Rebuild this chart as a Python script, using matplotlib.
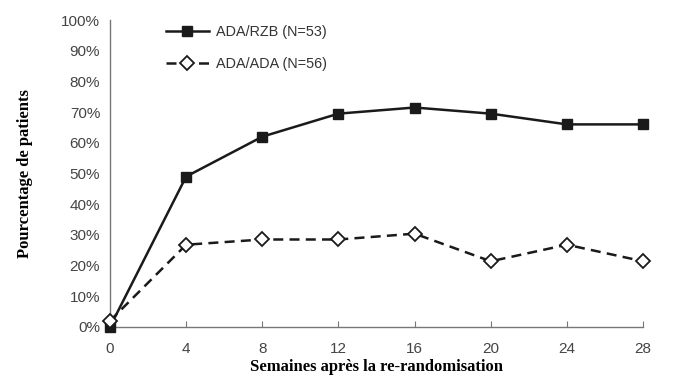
import matplotlib
matplotlib.use("Agg")
import matplotlib.pyplot as plt
from matplotlib.ticker import FuncFormatter

weeks = [0, 4, 8, 12, 16, 20, 24, 28]
ada_rzb = [0, 49, 62, 69.5, 71.5, 69.5, 66, 66]
ada_ada = [2, 26.8, 28.5, 28.5, 30.4, 21.4, 26.8, 21.4]
yticks = list(range(0, 101, 10))

fig = plt.figure(figsize=(6.96, 3.78), dpi=100)
ax = fig.add_axes([0.158, 0.135, 0.766, 0.812])

ax.plot(weeks, ada_rzb, color="#1a1a1a", lw=1.8, marker="s", ms=7.5,
        mfc="#1a1a1a", mec="#1a1a1a", clip_on=False, zorder=3,
        label="ADA/RZB (N=53)")
ax.plot(weeks, ada_ada, color="#1a1a1a", lw=1.8, ls=(0, (4, 2.5)), marker="D", ms=7,
        mfc="white", mec="#1a1a1a", mew=1.3, clip_on=False, zorder=4,
        label="ADA/ADA (N=56)")

ax.set_xlim(0, 28)
ax.set_ylim(0, 100)
ax.set_xticks(weeks)
ax.set_yticks(yticks)
ax.yaxis.set_major_formatter(FuncFormatter(lambda v, p: f"{int(v)}%"))

for s in ["top", "right"]:
    ax.spines[s].set_visible(False)
for s in ["left", "bottom"]:
    ax.spines[s].set_color("#777777")
    ax.spines[s].set_linewidth(1.0)

ax.tick_params(axis="x", direction="in", length=4, color="#777777",
               labelsize=11, labelcolor="#444444", pad=11)
ax.tick_params(axis="y", length=0, labelsize=11, labelcolor="#444444", pad=7)
for lab in ax.get_xticklabels() + ax.get_yticklabels():
    lab.set_fontfamily("Liberation Sans")

ax.set_xlabel("Semaines après la re-randomisation", family="Liberation Serif",
              fontweight="bold", fontsize=12, labelpad=2)
ax.set_ylabel("Pourcentage de patients", family="Liberation Serif",
              fontweight="bold", fontsize=12, labelpad=20)

leg = ax.legend(loc="upper left", bbox_to_anchor=(0.08, 1.025), frameon=False,
                handlelength=3.0, handletextpad=0.5, labelspacing=1.2,
                prop={"family": "Liberation Sans", "size": 10.4})
for t in leg.get_texts():
    t.set_color("#333333")

fig.savefig("out.png", dpi=100)
